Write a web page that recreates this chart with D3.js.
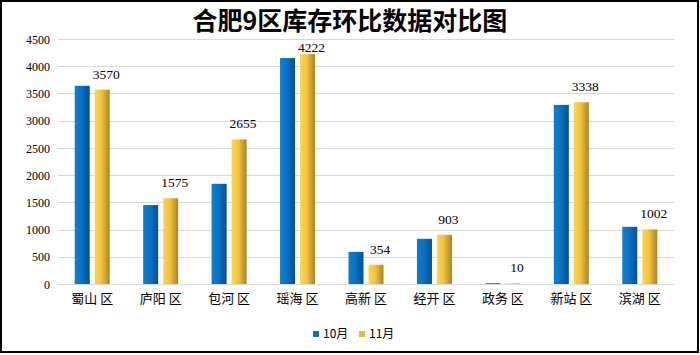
<!DOCTYPE html>
<html>
<head>
<meta charset="utf-8">
<script src="https://cdn.jsdelivr.net/npm/d3@7"></script>
<style>
  html, body { margin: 0; padding: 0; background: #fff; }
  svg { display: block; }
</style>
</head>
<body>
<div id="chart"></div>
<script>
const title = "合肥9区库存环比数据对比图";
const categories = ["蜀山 区", "庐阳 区", "包河 区", "瑶海 区", "高新 区", "经开 区", "政务 区", "新站 区", "滨湖 区"];
const seriesNames = ["10月", "11月"];
const octValues = [3640, 1450, 1840, 4150, 590, 830, 15, 3290, 1050];
const novValues = [3570, 1575, 2655, 4222, 354, 903, 10, 3338, 1002];
const yTicks = [0, 500, 1000, 1500, 2000, 2500, 3000, 3500, 4000, 4500];

const W = 700, H = 355;
const margin = { left: 58, right: 26, top: 39, bottom: 71 };
const svg = d3.select("#chart").append("svg").attr("width", W).attr("height", H);

// gradients
const defs = svg.append("defs");
const grads = [
  { id: "gBlue", stops: [["0%", "#0B7FD6"], ["45%", "#0A72C2"], ["100%", "#0B4F8C"]] },
  { id: "gGold", stops: [["0%", "#FFD54F"], ["45%", "#F2C23E"], ["100%", "#A8842A"]] }
];
grads.forEach(g => {
  const lg = defs.append("linearGradient").attr("id", g.id).attr("x1", "0%").attr("x2", "100%").attr("y1", "0%").attr("y2", "0%");
  g.stops.forEach(s => lg.append("stop").attr("offset", s[0]).attr("stop-color", s[1]));
});
const fills = ["url(#gBlue)", "url(#gGold)"];
const legendFills = ["#0A70C0", "#E8BC3A"];

// border
svg.append("rect").attr("x", 1).attr("y", 1).attr("width", W - 3).attr("height", H - 4)
  .attr("fill", "#fff").attr("stroke", "#000").attr("stroke-width", 2);

const x0 = d3.scaleBand().domain(categories).range([margin.left, W - margin.right]).padding(0);
const y = d3.scaleLinear().domain([0, 4500]).range([H - margin.bottom, margin.top]);

// gridlines
svg.append("g").selectAll("line").data(yTicks).join("line")
  .attr("x1", margin.left).attr("x2", W - margin.right)
  .attr("y1", d => Math.round(y(d)) + 0.5).attr("y2", d => Math.round(y(d)) + 0.5)
  .attr("stroke", "#D9D9D9").attr("stroke-width", 1);

// y axis labels
const yAxis = d3.axisLeft(y).tickValues(yTicks).tickFormat(d3.format("d")).tickSize(0).tickPadding(0);
const ya = svg.append("g").attr("transform", `translate(${margin.left - 8},0)`).call(yAxis);
ya.select(".domain").remove();
ya.selectAll("text").attr("font-family", "'Liberation Serif', serif").attr("font-size", 12)
  .attr("fill", "#000").attr("dy", "0.35em");

// x axis labels
const xAxis = d3.axisBottom(x0).tickSize(0).tickPadding(0);
const xa = svg.append("g").attr("transform", `translate(0,${H - margin.bottom})`).call(xAxis);
xa.select(".domain").remove();
xa.selectAll("text").attr("font-family", "'Noto Sans CJK SC', sans-serif").attr("font-size", 13)
  .attr("fill", "#000").attr("dy", "19px").style("white-space", "pre");

// bars
const barW = 15, gap = 5;
const groupOffset = (x0.bandwidth() - (barW * 2 + gap)) / 2;
const seriesData = [octValues, novValues];
seriesData.forEach((vals, si) => {
  svg.append("g").selectAll("rect").data(vals).join("rect")
    .attr("x", (d, i) => x0(categories[i]) + groupOffset + si * (barW + gap))
    .attr("width", barW)
    .attr("y", d => y(d))
    .attr("height", d => y(0) - y(d))
    .attr("fill", fills[si]);
});

// value labels (11月)
svg.append("g").selectAll("text").data(novValues).join("text")
  .attr("x", (d, i) => x0(categories[i]) + groupOffset + barW + gap + barW / 2 + 4)
  .attr("y", d => Math.max(y(d) - 11, margin.top + 13))
  .attr("text-anchor", "middle")
  .attr("font-family", "'Liberation Serif', serif").attr("font-size", 13.5)
  .attr("fill", "#000")
  .text(d => d);

// title
svg.append("text").attr("x", W / 2).attr("y", 30).attr("text-anchor", "middle")
  .attr("font-family", "'Noto Sans CJK SC', sans-serif").attr("font-weight", "bold").attr("font-size", 25)
  .attr("fill", "#000").text(title);

// legend
const legX = [313, 359];
const lg = svg.append("g");
seriesNames.forEach((s, i) => {
  lg.append("rect").attr("x", legX[i]).attr("y", 331).attr("width", 6).attr("height", 6).attr("fill", legendFills[i]);
  lg.append("text").attr("x", legX[i] + 10).attr("y", 338).attr("font-family", "'Noto Sans CJK SC', sans-serif")
    .attr("font-size", 12).attr("fill", "#000").text(s);
});
</script>
</body>
</html>
